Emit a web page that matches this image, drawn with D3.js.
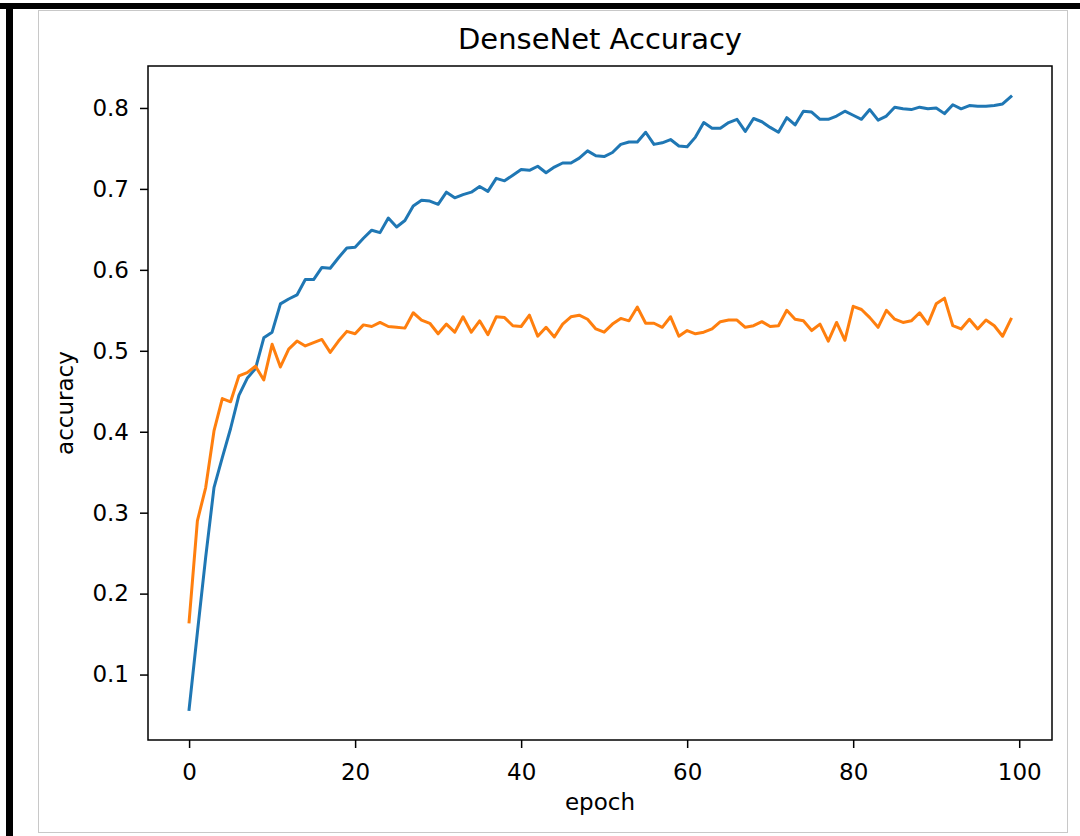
<!DOCTYPE html>
<html>
<head>
<meta charset="utf-8">
<script src="https://cdn.jsdelivr.net/npm/d3@7"></script>
<style>
  html, body { margin: 0; padding: 0; background: #fff; }
  svg { display: block; }
  text { font-family: "DejaVu Sans", sans-serif; fill: #000; }
</style>
</head>
<body>
<svg id="chart"></svg>
<script>
// values, epoch 0..99
const trainAcc = [
  0.057, 0.152, 0.245, 0.331, 0.368, 0.404, 0.445, 0.466, 0.478, 0.516,
  0.523, 0.558, 0.564, 0.569, 0.588, 0.588, 0.603, 0.602, 0.615, 0.627,
  0.628, 0.639, 0.649, 0.646, 0.664, 0.653, 0.661, 0.679, 0.686, 0.685,
  0.681, 0.696, 0.689, 0.693, 0.696, 0.703, 0.697, 0.713, 0.710, 0.717,
  0.724, 0.723, 0.728, 0.720, 0.727, 0.732, 0.732, 0.738, 0.747, 0.741,
  0.740, 0.745, 0.755, 0.758, 0.758, 0.770, 0.755, 0.757, 0.761, 0.753,
  0.752, 0.764, 0.782, 0.775, 0.775, 0.782, 0.786, 0.771, 0.787, 0.783,
  0.776, 0.770, 0.788, 0.779, 0.796, 0.795, 0.786, 0.786, 0.790, 0.796,
  0.791, 0.786, 0.798, 0.785, 0.790, 0.801, 0.799, 0.798, 0.801, 0.799,
  0.800, 0.793, 0.804, 0.799, 0.803, 0.802, 0.802, 0.803, 0.805, 0.814
];
const valAcc = [
  0.165, 0.290, 0.331, 0.401, 0.441, 0.437, 0.469, 0.473, 0.481, 0.464,
  0.508, 0.480, 0.502, 0.512, 0.506, 0.510, 0.514, 0.498, 0.512, 0.524,
  0.521, 0.532, 0.530, 0.535, 0.530, 0.529, 0.528, 0.547, 0.538, 0.534,
  0.521, 0.533, 0.523, 0.542, 0.523, 0.537, 0.520, 0.542, 0.541, 0.531,
  0.530, 0.544, 0.518, 0.529, 0.517, 0.533, 0.542, 0.544, 0.539, 0.527,
  0.523, 0.533, 0.540, 0.537, 0.554, 0.534, 0.534, 0.529, 0.542, 0.518,
  0.525, 0.521, 0.523, 0.527, 0.536, 0.538, 0.538, 0.529, 0.531, 0.536,
  0.530, 0.531, 0.550, 0.539, 0.537, 0.525, 0.533, 0.512, 0.535, 0.513,
  0.555, 0.551, 0.541, 0.529, 0.550, 0.539, 0.535, 0.537, 0.547, 0.533,
  0.558, 0.565, 0.531, 0.527, 0.539, 0.527, 0.538, 0.531, 0.518, 0.539
];
const xTicks = [0, 20, 40, 60, 80, 100];
const yTicks = [0.1, 0.2, 0.3, 0.4, 0.5, 0.6, 0.7, 0.8];

const svgWidth = 1080, svgHeight = 836;
const margin = { top: 66, right: 28, bottom: 96, left: 148 };
const width = svgWidth - margin.left - margin.right;   // 904
const height = svgHeight - margin.top - margin.bottom; // 674

const svg = d3.select("#chart")
  .attr("width", svgWidth)
  .attr("height", svgHeight);

// screenshot frame: thin grey box + thick black edge top/left
svg.append("rect")
  .attr("x", 38.5).attr("y", 10.5)
  .attr("width", 1029).attr("height", 822)
  .attr("fill", "none")
  .attr("stroke", "#c8c8c8")
  .attr("stroke-width", 1);
svg.append("rect").attr("x", 0).attr("y", 3).attr("width", svgWidth).attr("height", 6).attr("fill", "#000");
svg.append("rect").attr("x", 6).attr("y", 3).attr("width", 7).attr("height", svgHeight).attr("fill", "#000");

const epochs = d3.range(trainAcc.length);

// matplotlib style 5% margins
const xPad = (epochs.length - 1) * 0.05;
const x = d3.scaleLinear()
  .domain([-xPad, epochs.length - 1 + xPad])
  .range([0, width]);

const all = trainAcc.concat(valAcc);
const yMin = d3.min(all), yMax = d3.max(all);
const yPad = (yMax - yMin) * 0.05;
const y = d3.scaleLinear()
  .domain([yMin - yPad, yMax + yPad])
  .range([height, 0]);

const g = svg.append("g")
  .attr("transform", "translate(" + margin.left + "," + margin.top + ")");

// x axis
const xAxis = g.append("g")
  .attr("transform", "translate(0," + height + ")")
  .call(d3.axisBottom(x).tickValues(xTicks).tickFormat(d3.format("d")).tickSize(8).tickSizeOuter(0).tickPadding(16));
xAxis.select(".domain").remove();
xAxis.selectAll("line").attr("stroke", "#000").attr("stroke-width", 1.5);
xAxis.selectAll("text").style("font-size", "23px").attr("fill", "#000");

// y axis
const yAxis = g.append("g")
  .call(d3.axisLeft(y).tickValues(yTicks).tickFormat(d3.format(".1f")).tickSize(8).tickSizeOuter(0).tickPadding(11));
yAxis.select(".domain").remove();
yAxis.selectAll("line").attr("stroke", "#000").attr("stroke-width", 1.5);
yAxis.selectAll("text").style("font-size", "23px").attr("fill", "#000");

// lines
const line = d3.line()
  .x((d, i) => x(i))
  .y(d => y(d));

g.append("path")
  .datum(trainAcc)
  .attr("fill", "none")
  .attr("stroke", "#1f77b4")
  .attr("stroke-width", 3)
  .attr("stroke-linejoin", "round")
  .attr("stroke-linecap", "square")
  .attr("d", line);

g.append("path")
  .datum(valAcc)
  .attr("fill", "none")
  .attr("stroke", "#ff7f0e")
  .attr("stroke-width", 3)
  .attr("stroke-linejoin", "round")
  .attr("stroke-linecap", "square")
  .attr("d", line);

// axes box
g.append("rect")
  .attr("x", 0).attr("y", 0)
  .attr("width", width).attr("height", height)
  .attr("fill", "none")
  .attr("stroke", "#000")
  .attr("stroke-width", 1.5);

// title + labels
svg.append("text")
  .attr("x", margin.left + width / 2)
  .attr("y", 49)
  .attr("text-anchor", "middle")
  .style("font-size", "29px")
  .text("DenseNet Accuracy");

svg.append("text")
  .attr("x", margin.left + width / 2)
  .attr("y", 810)
  .attr("text-anchor", "middle")
  .style("font-size", "23px")
  .text("epoch");

svg.append("text")
  .attr("transform", "translate(73," + (margin.top + height / 2) + ") rotate(-90)")
  .attr("text-anchor", "middle")
  .style("font-size", "23px")
  .text("accuracy");
</script>
</body>
</html>
